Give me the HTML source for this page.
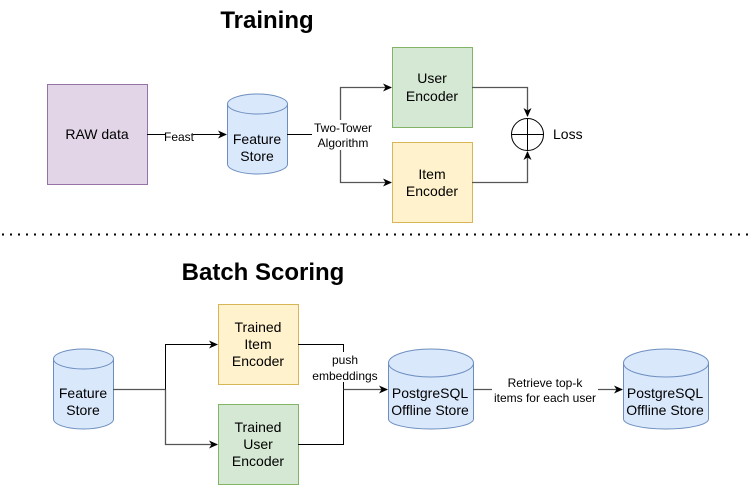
<!DOCTYPE html>
<html><head><meta charset="utf-8"><style>
html,body{margin:0;padding:0;background:#fff;}
svg{display:block;}
text{font-family:"Liberation Sans",Arial,sans-serif;fill:#000;}
</style></head><body>
<svg width="753" height="485" viewBox="0 0 753 485" xmlns="http://www.w3.org/2000/svg">
<defs>
<marker id="a" markerWidth="10" markerHeight="10" refX="8" refY="5" orient="auto" markerUnits="userSpaceOnUse">
<path d="M0,1 L9,5 L0,9 L2.5,5 Z" fill="#000"/>
</marker>
</defs>
<text x="267" y="28" font-size="24" font-weight="bold" text-anchor="middle">Training</text>
<text x="263" y="280" font-size="24" font-weight="bold" text-anchor="middle">Batch Scoring</text>

<rect x="47.5" y="84.5" width="100" height="100" fill="#e1d5e7" stroke="#9673a6"/>
<text x="97" y="139" font-size="14" text-anchor="middle">RAW data</text>

<line x1="147" y1="134.5" x2="226" y2="134.5" stroke="#000" marker-end="url(#a)"/>
<rect x="165" y="128" width="28" height="14" fill="#fff"/>
<text x="179" y="141" font-size="12" text-anchor="middle">Feast</text>

<g fill="#dae8fc" stroke="#6c8ebf">
<path d="M227.5,104 v60 a30,10 0 0 0 60,0 v-60"/>
<ellipse cx="257.5" cy="104" rx="30" ry="10"/>
</g>
<text x="257" y="144" font-size="14" text-anchor="middle">Feature</text>
<text x="257" y="161" font-size="14" text-anchor="middle">Store</text>

<path d="M287,134.5 H312" stroke="#000" fill="none"/>
<path d="M340.5,120 V87.5 H391" stroke="#555" stroke-width="1.3" fill="none" marker-end="url(#a)"/>
<path d="M340.5,150 V182.5 H391" stroke="#555" stroke-width="1.3" fill="none" marker-end="url(#a)"/>
<text x="343" y="132" font-size="12" text-anchor="middle">Two-Tower</text>
<text x="343" y="147" font-size="12" text-anchor="middle">Algorithm</text>

<rect x="392.5" y="47.5" width="80" height="80" fill="#d5e8d4" stroke="#82b366"/>
<text x="432" y="83" font-size="14" text-anchor="middle">User</text>
<text x="432" y="101" font-size="14" text-anchor="middle">Encoder</text>
<rect x="392.5" y="142.5" width="80" height="80" fill="#fff2cc" stroke="#d6b656"/>
<text x="432" y="179" font-size="14" text-anchor="middle">Item</text>
<text x="432" y="196" font-size="14" text-anchor="middle">Encoder</text>

<path d="M472,87.5 H527.5 V116" stroke="#555" stroke-width="1.3" fill="none" marker-end="url(#a)"/>
<path d="M472,182.5 H527.5 V152" stroke="#555" stroke-width="1.3" fill="none" marker-end="url(#a)"/>
<circle cx="527.5" cy="134.5" r="16" fill="#fff" stroke="#000"/>
<line x1="511.5" y1="134.5" x2="543.5" y2="134.5" stroke="#000"/>
<line x1="527.5" y1="118.5" x2="527.5" y2="150.5" stroke="#000"/>
<text x="553" y="139" font-size="14">Loss</text>

<line x1="2" y1="234.5" x2="753" y2="234.5" stroke="#000" stroke-width="2" stroke-dasharray="2,6"/>

<g fill="#dae8fc" stroke="#6c8ebf">
<path d="M53.5,359 v60 a30,10 0 0 0 60,0 v-60"/>
<ellipse cx="83.5" cy="359" rx="30" ry="10"/>
</g>
<text x="83" y="398" font-size="14" text-anchor="middle">Feature</text>
<text x="83" y="415" font-size="14" text-anchor="middle">Store</text>

<path d="M113,389.5 H165.5" stroke="#555" stroke-width="1.3" fill="none"/>
<path d="M165.5,389.5 V344.5 H217" stroke="#000" fill="none" marker-end="url(#a)"/>
<path d="M165.5,389.5 V444.5 H217" stroke="#555" stroke-width="1.3" fill="none" marker-end="url(#a)"/>

<rect x="218.5" y="304.5" width="80" height="80" fill="#fff2cc" stroke="#d6b656"/>
<text x="258" y="332" font-size="14" text-anchor="middle">Trained</text>
<text x="258" y="349" font-size="14" text-anchor="middle">Item</text>
<text x="258" y="366" font-size="14" text-anchor="middle">Encoder</text>
<rect x="218.5" y="404.5" width="80" height="80" fill="#d5e8d4" stroke="#82b366"/>
<text x="258" y="432" font-size="14" text-anchor="middle">Trained</text>
<text x="258" y="449" font-size="14" text-anchor="middle">User</text>
<text x="258" y="466" font-size="14" text-anchor="middle">Encoder</text>

<path d="M298,344.5 H343.5 V389.5" stroke="#000" fill="none"/>
<path d="M298,444.5 H343.5 V389.5" stroke="#000" fill="none"/>
<path d="M343.5,389.5 H387" stroke="#555" stroke-width="1.3" fill="none" marker-end="url(#a)"/>
<rect x="310" y="352" width="68" height="30" fill="#fff"/>
<text x="345" y="364" font-size="12" text-anchor="middle">push</text>
<text x="345" y="380" font-size="12" text-anchor="middle">embeddings</text>

<g fill="#dae8fc" stroke="#6c8ebf">
<path d="M388.5,363 v56 a42.5,10 0 0 0 85,0 v-56"/>
<ellipse cx="431" cy="363" rx="42.5" ry="14"/>
<path d="M623.5,363 v56 a42.5,10 0 0 0 85,0 v-56"/>
<ellipse cx="666" cy="363" rx="42.5" ry="14"/>
</g>
<text x="430" y="398" font-size="14" text-anchor="middle">PostgreSQL</text>
<text x="430" y="415" font-size="14" text-anchor="middle">Offline Store</text>
<text x="665" y="398" font-size="14" text-anchor="middle">PostgreSQL</text>
<text x="665" y="415" font-size="14" text-anchor="middle">Offline Store</text>

<path d="M473,389.5 H622" stroke="#555" stroke-width="1.3" fill="none" marker-end="url(#a)"/>
<rect x="492" y="375" width="106" height="30" fill="#fff"/>
<text x="545" y="387" font-size="12" text-anchor="middle">Retrieve  top-k</text>
<text x="545" y="402" font-size="12" text-anchor="middle">items for each user</text>
</svg>
</body></html>
